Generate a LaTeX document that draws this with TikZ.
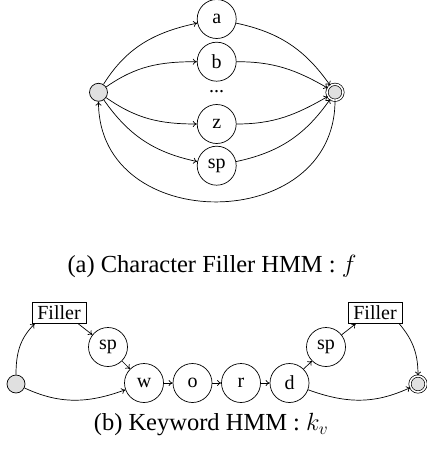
\documentclass[tikz,border=0pt]{standalone}
\usepackage{fontspec}
\setmainfont{Liberation Serif}
\usetikzlibrary{arrows.meta}
\begin{document}
\begin{tikzpicture}[x=1pt,y=1pt,
  every path/.style={line width=0.7pt},
  >={To[length=4pt,width=6pt]},
  st/.style={circle, draw, minimum size=39pt, inner sep=0pt, font=\fontsize{20}{24}\selectfont},
  init/.style={circle, draw, fill=black!12, minimum size=18pt, inner sep=0pt},
  fin/.style={circle, draw, double, double distance=1.6pt, fill=black!12, minimum size=16pt, inner sep=0pt},
  fbox/.style={draw, rectangle, minimum width=54pt, minimum height=21pt, inner sep=0pt, font=\fontsize{20}{24}\selectfont},
  captxt/.style={font=\fontsize{24.5}{29}\selectfont, inner sep=0pt},
  arrowline/.style={->}]
\useasboundingbox (0,0) rectangle (427,-457);
% ---- (a) ----
\node[init] (S1) at (98.5,-92.3) {};
\node[fin] (E1) at (335,-92.3) {};
\node[st] (a) at (216.7,-19) {a};
\node[st] (b) at (216.7,-61.7) {b};
\node[font=\fontsize{20}{24}\selectfont] (dots) at (216.7,-92) {...};
\node[st] (z) at (216.7,-124) {z};
\node[st] (spa) at (216.7,-165.7) {sp};
\draw[arrowline] (S1) to[out=58,in=192] (a);
\draw[arrowline] (S1) to[out=35,in=180] (b);
\draw[arrowline] (S1) to[out=-35,in=180] (z);
\draw[arrowline] (S1) to[out=-55,in=168] (spa);
\draw[arrowline] (a) to[out=-12,in=125] (E1);
\draw[arrowline] (b) to[out=0,in=150] (E1);
\draw[arrowline] (z) to[out=0,in=210] (E1);
\draw[arrowline] (spa) to[out=12,in=235] (E1);
\draw[arrowline] (E1) to[out=-90,in=-90,looseness=1.45] (S1);
\node[captxt] (capa) at (212,-266) {(a) Character Filler HMM : $f$};
% ---- (b) ----
\node[init] (S2) at (16,-384) {};
\node[fin] (E2) at (418,-384) {};
\node[fbox] (F1) at (59,-313) {Filler};
\node[fbox] (F2) at (375,-313) {Filler};
\node[st] (sp1) at (108,-347) {sp};
\node[st] (sp2) at (326,-347) {sp};
\node[st] (w) at (144,-383) {w};
\node[st] (o) at (192.5,-383) {o};
\node[st] (r) at (241,-383) {r};
\node[st] (d) at (289.5,-383) {d};
\draw[arrowline] (S2) to[out=90,in=225] ([xshift=3pt]F1.south west);
\draw[arrowline] ([xshift=-8pt]F1.south east) -- (sp1);
\draw[arrowline] (sp1) -- (w);
\draw[arrowline] (S2) to[out=-25,in=200] (w);
\draw[arrowline] (w) -- (o);
\draw[arrowline] (o) -- (r);
\draw[arrowline] (r) -- (d);
\draw[arrowline] (d) -- (sp2);
\draw[arrowline] (sp2) -- ([xshift=8pt]F2.south west);
\draw[arrowline] ([xshift=-3pt]F2.south east) to[out=-50,in=90] (E2);
\draw[arrowline] (d) to[out=-20,in=205] (E2);
\node[captxt] (capb) at (211,-425) {(b) Keyword HMM : $k_v$};
\end{tikzpicture}
\end{document}
